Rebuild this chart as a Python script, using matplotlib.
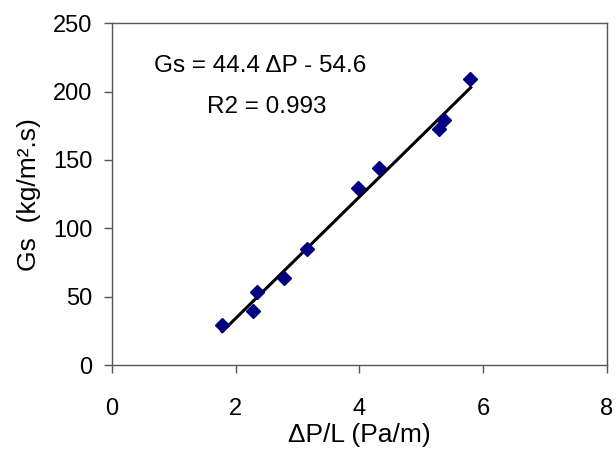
import numpy as np
import matplotlib
matplotlib.use("Agg")
import matplotlib.pyplot as plt

plt.rcParams['font.family'] = ['Liberation Sans', 'DejaVu Sans']

# pressure drop per length vs solids flux
dp_l = [1.78, 2.28, 2.34, 2.78, 3.16, 3.98, 4.32, 5.29, 5.37, 5.79]
gs = [29.5, 39.5, 53.5, 63.5, 85, 129.5, 144, 172.5, 179.5, 209]

# linear fit as printed on the chart
slope, intercept = 44.4, -54.6
fit_x = [1.78, 5.8]

fig = plt.figure(figsize=(6.16, 4.54), dpi=100)
ax = fig.add_axes([0.182, 0.196, 0.803, 0.753])

fx = np.array(fit_x)
ax.plot(fx, slope * fx + intercept, color='black', lw=2.2, zorder=2)
ax.plot(dp_l, gs, linestyle='none', marker='D', markersize=7.5,
        color='#000080', zorder=3)

ax.set_xlim(0, 8)
ax.set_ylim(0, 250)
ax.set_xticks([0, 2, 4, 6, 8])
ax.set_yticks([0, 50, 100, 150, 200, 250])

for sp in ax.spines.values():
    sp.set_color('#555555')
    sp.set_linewidth(1.0)
ax.tick_params(direction='out', length=6, width=1.0, color='#555555',
               labelsize=17)
ax.tick_params(axis='x', pad=18)
ax.tick_params(axis='y', pad=8)

ax.set_xlabel('ΔP/L (Pa/m)', fontsize=19, labelpad=2)
ax.set_ylabel('Gs  (kg/m².s)', fontsize=19, labelpad=9)

ax.text(2.4, 219, 'Gs = 44.4 ΔP - 54.6', fontsize=17.5, ha='center', va='center')
ax.text(2.5, 188.5, 'R2 = 0.993', fontsize=17.5, ha='center', va='center')

fig.savefig('out.png', dpi=100)
